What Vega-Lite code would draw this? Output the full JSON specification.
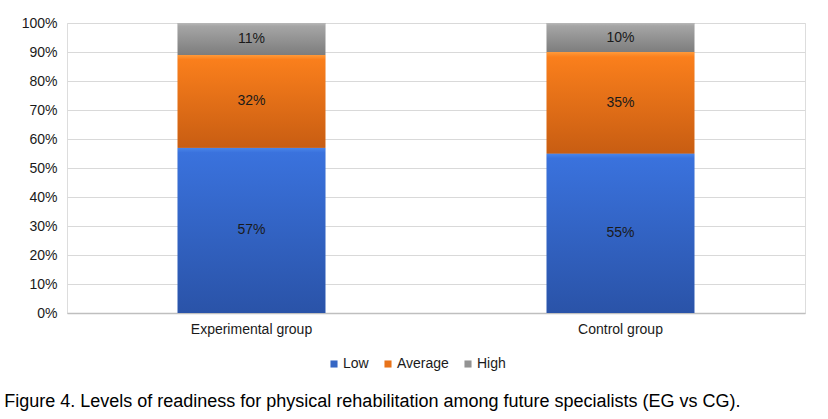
{
  "$schema": "https://vega.github.io/schema/vega-lite/v6.json",
  "width": 738,
  "height": 290,
  "autosize": {"type": "none"},
  "padding": {"left": 67, "top": 23, "right": 23, "bottom": 106},
  "background": "white",
  "data": {
    "values": [
      {"group": "Experimental group", "level": "Low", "order": 1, "value": 0.57},
      {"group": "Experimental group", "level": "Average", "order": 2, "value": 0.32},
      {"group": "Experimental group", "level": "High", "order": 3, "value": 0.11},
      {"group": "Control group", "level": "Low", "order": 1, "value": 0.55},
      {"group": "Control group", "level": "Average", "order": 2, "value": 0.35},
      {"group": "Control group", "level": "High", "order": 3, "value": 0.10}
    ]
  },
  "title": {
    "text": "Figure 4. Levels of readiness for physical rehabilitation among future specialists (EG vs CG).",
    "orient": "bottom",
    "anchor": "start",
    "dx": -17,
    "offset": 22,
    "font": "Liberation Sans",
    "fontSize": 18,
    "fontWeight": "normal",
    "color": "#000000"
  },
  "encoding": {
    "x": {
      "field": "group",
      "type": "nominal",
      "sort": ["Experimental group", "Control group"],
      "scale": {"paddingInner": 0.6, "paddingOuter": 0.3},
      "axis": {
        "title": null,
        "labelAngle": 0,
        "labelFont": "Liberation Sans",
        "labelFontSize": 14,
        "labelColor": "#1a1a1a",
        "domainColor": "#bfbfbf",
        "domainWidth": 1.5,
        "ticks": false,
        "labelPadding": 9,
        "grid": false
      }
    },
    "y": {
      "field": "value",
      "type": "quantitative",
      "stack": "normalize",
      "scale": {"domain": [0, 1]},
      "axis": {
        "title": null,
        "format": ".0%",
        "values": [0, 0.1, 0.2, 0.3, 0.4, 0.5, 0.6, 0.7, 0.8, 0.9, 1],
        "labelFont": "Liberation Sans",
        "labelFontSize": 14,
        "labelColor": "#1a1a1a",
        "domain": false,
        "ticks": false,
        "labelPadding": 10,
        "gridColor": "#d9d9d9",
        "gridWidth": 1
      }
    },
    "order": {"field": "order", "type": "quantitative"}
  },
  "layer": [
    {
      "mark": {"type": "bar"},
      "encoding": {
        "color": {
          "field": "level",
          "type": "nominal",
          "sort": ["Low", "Average", "High"],
          "scale": {
            "domain": ["Low", "Average", "High"],
            "range": ["#3566c4", "#e8731a", "#939393"]
          },
          "legend": {
            "title": null,
            "orient": "none",
            "legendX": 260,
            "legendY": 334,
            "direction": "horizontal",
            "symbolType": "square",
            "symbolSize": 50,
            "symbolStrokeWidth": 0,
            "labelFont": "Liberation Sans",
            "labelFontSize": 14,
            "labelColor": "#1a1a1a",
            "columnPadding": 12,
            "labelOffset": 2
          }
        }
      }
    },
    {
      "mark": {"type": "bar"},
      "encoding": {
        "fill": {
          "condition": [
            {"test": "datum.level === 'Low'", "value": {"gradient": "linear", "x1": 0, "y1": 0, "x2": 0, "y2": 1, "stops": [{"offset": 0, "color": "#4a86ea"}, {"offset": 0.03, "color": "#3a72dd"}, {"offset": 1, "color": "#2a53a8"}]}},
            {"test": "datum.level === 'Average'", "value": {"gradient": "linear", "x1": 0, "y1": 0, "x2": 0, "y2": 1, "stops": [{"offset": 0, "color": "#ff9a3a"}, {"offset": 0.05, "color": "#fa7f1c"}, {"offset": 1, "color": "#c85d12"}]}}
          ],
          "value": {"gradient": "linear", "x1": 0, "y1": 0, "x2": 0, "y2": 1, "stops": [{"offset": 0, "color": "#b8b8b8"}, {"offset": 0.1, "color": "#a5a5a5"}, {"offset": 1, "color": "#7d7d7d"}]}
        }
      }
    },
    {
      "mark": {"type": "text", "font": "Liberation Sans", "fontSize": 14, "color": "#1a1a1a"},
      "encoding": {
        "y": {"field": "value", "type": "quantitative", "stack": "normalize", "bandPosition": 0.5},
        "text": {"field": "value", "type": "quantitative", "format": ".0%"}
      }
    }
  ]
}
